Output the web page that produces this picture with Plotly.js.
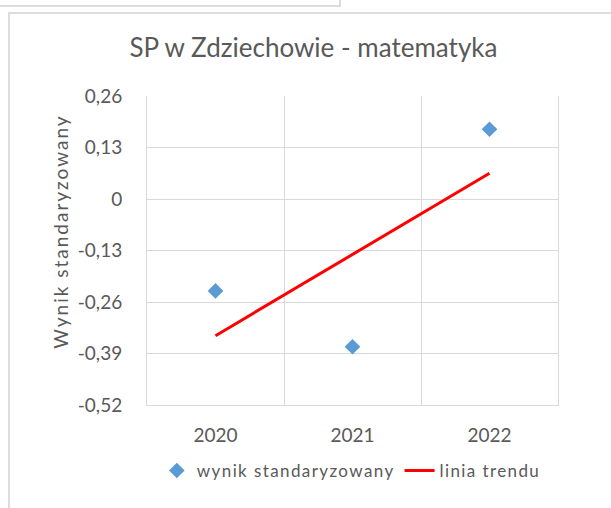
<!DOCTYPE html>
<html>
<head>
<meta charset="utf-8">
<script src="https://cdn.plot.ly/plotly-3.0.1.min.js"></script>
<style>
html,body{margin:0;padding:0;background:#fff;}
#wrap{position:relative;width:611px;height:508px;overflow:hidden;}
#chart{width:611px;height:508px;}
.frame{position:absolute;pointer-events:none;}
#f1{left:8px;top:12px;width:700px;height:600px;border:2px solid #dcdcdc;}
#f2{left:-10px;top:-10px;width:347px;height:13px;border:2px solid #dcdcdc;}
.legendtext{letter-spacing:1.4px;}
.annotation-text{letter-spacing:2px;}
</style>
</head>
<body>
<div id="wrap">
<div id="chart"></div>
<div class="frame" id="f1"></div>
<div class="frame" id="f2"></div>
</div>
<script>
const years = ['2020', '2021', '2022'];
const wynik = [-0.232, -0.373, 0.176];
const trend = [-0.345, -0.140, 0.065];
const yTickVals = [0.26, 0.13, 0, -0.13, -0.26, -0.39, -0.52];
const yTickText = ['0,26', '0,13', '0', '-0,13', '-0,26', '-0,39', '-0,52'];
const yTitle = 'Wynik standaryzowany';

const font = 'Lato, "Open Sans", sans-serif';
const txt = '#595959';
const grid = '#d9d9d9';

const traces = [
  {
    x: years, y: wynik, type: 'scatter', mode: 'markers',
    name: 'wynik standaryzowany',
    marker: {symbol: 'diamond', size: 12, color: '#5b9bd5'}
  },
  {
    x: years, y: trend, type: 'scatter', mode: 'lines',
    name: 'linia trendu',
    line: {color: '#ff0000', width: 3}
  }
];

const layout = {
  width: 611, height: 508,
  margin: {l: 147, r: 53, t: 96, b: 103},
  paper_bgcolor: '#fff', plot_bgcolor: '#fff',
  font: {family: font, color: txt, size: 19},
  showlegend: true,
  title: {text: 'SP w Zdziechowie - matematyka', font: {family: font, size: 26, color: txt},
          x: 0.513, xanchor: 'center', y: 0.905, yanchor: 'middle'},
  xaxis: {
    type: 'category', range: [-0.5, 2.5], tickson: 'boundaries',
    showgrid: true, gridcolor: grid, gridwidth: 1,
    showline: true, linecolor: grid, linewidth: 1,
    ticks: '', ticklabelstandoff: 13, zeroline: false, automargin: false,
    tickfont: {family: font, size: 19, color: txt}
  },
  yaxis: {
    range: [-0.52, 0.26], tickvals: yTickVals, ticktext: yTickText,
    showgrid: true, gridcolor: grid, gridwidth: 1,
    showline: true, linecolor: grid, linewidth: 1, mirror: true,
    zeroline: false, ticks: '', ticklabelstandoff: 20, automargin: false,
    tickfont: {family: font, size: 19, color: txt}
  },
  annotations: [
    {text: yTitle, xref: 'paper', yref: 'paper', x: -0.21, y: 0.56,
     xanchor: 'center', yanchor: 'middle', textangle: -90, showarrow: false,
     font: {family: font, size: 19, color: txt}}
  ],
  legend: {
    orientation: 'h', xref: 'container', yref: 'container',
    x: 0.575, xanchor: 'center', y: 0.0728, yanchor: 'middle',
    font: {family: font, size: 17, color: txt}, itemwidth: 30, traceorder: 'normal'
  }
};

Plotly.newPlot('chart', traces, layout, {displayModeBar: false, staticPlot: true});
</script>
</body>
</html>
